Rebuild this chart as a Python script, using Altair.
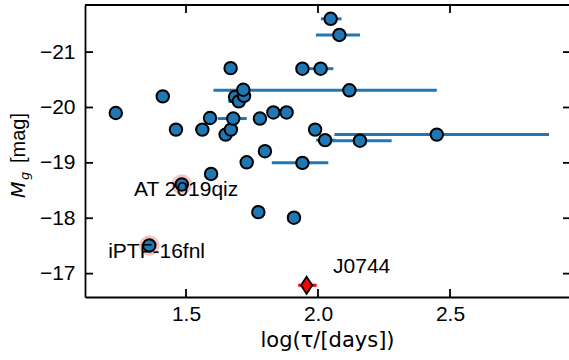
import altair as alt
import pandas as pd

# ---- data ----
log_tau = [1.234, 1.412, 1.462, 1.484, 1.361, 1.562, 1.591, 1.595, 1.650, 1.670,
           1.669, 1.679, 1.686, 1.700, 1.720, 1.717, 1.730, 1.774, 1.780, 1.799,
           1.831, 1.881, 1.909, 1.941, 2.010, 2.048, 2.081, 2.119, 1.941, 1.989,
           2.027, 2.159, 2.450]
mag_g = [-19.90, -20.20, -19.60, -18.61, -17.51, -19.60, -19.81, -18.80, -19.51, -19.60,
         -20.71, -19.80, -20.19, -20.11, -20.21, -20.32, -19.01, -18.11, -19.80, -19.21,
         -19.91, -19.91, -18.01, -20.70, -20.70, -21.60, -21.31, -20.31, -19.00, -19.60,
         -19.41, -19.40, -19.51]

# horizontal error bars (lower end, upper end, magnitude)
err_lo = [1.535, 1.620, 1.660, 1.962, 2.011, 1.992, 1.604, 1.825, 1.993, 2.045, 2.062]
err_hi = [1.585, 1.730, 1.720, 2.058, 2.089, 2.159, 2.450, 2.039, 2.065, 2.279, 2.875]
err_y = [-19.60, -19.80, -20.11, -20.70, -21.60, -21.31, -20.31, -19.00, -19.41, -19.40, -19.51]

# highlighted events
hl_x = [1.484, 1.361]
hl_y = [-18.61, -17.51]
hl_names = ["AT 2019qiz", "iPTF-16fnl"]

# J0744
j_x = [1.957]
j_y = [-16.79]
j_lo = [1.925]
j_hi = [1.995]

# annotation texts
ann_text = ["AT 2019qiz", "iPTF-16fnl", "J0744"]
ann_x = [1.303, 1.205, 2.057]
ann_y = [-18.41, -17.29, -17.01]

x_ticks = [1.5, 2.0, 2.5]
y_ticks = [-21, -20, -19, -18, -17]
x_domain = [1.1174, 2.9508]
y_domain = [-21.85, -16.578]

W, H = 484, 292
FONT = "Liberation Sans"
C0 = "#1f77b4"

pts = pd.DataFrame({"x": log_tau, "y": mag_g})
errs = pd.DataFrame({"lo": err_lo, "hi": err_hi, "y": err_y})
hl = pd.DataFrame({"x": hl_x, "y": hl_y, "name": hl_names})
jd = pd.DataFrame({"x": j_x, "y": j_y, "lo": j_lo, "hi": j_hi})
ann = pd.DataFrame({"t": ann_text, "x": ann_x, "y": ann_y})
xt = pd.DataFrame({"v": x_ticks})
yt = pd.DataFrame({"v": y_ticks})

xs = alt.Scale(domain=x_domain, nice=False, zero=False)
ys = alt.Scale(domain=y_domain, nice=False, zero=False, reverse=True)

X = alt.X("x:Q", scale=xs, axis=alt.Axis(
    values=x_ticks, format=".1f", title="log(τ/[days])",
    titleFont="DejaVu Sans", titleFontSize=21,
    ticks=False, tickSize=0, labelPadding=6, titlePadding=5))
Y = alt.Y("y:Q", scale=ys, axis=alt.Axis(
    values=y_ticks, title=None, ticks=False, tickSize=0, labelPadding=10,
    labelExpr="replace(format(datum.value, 'd'), '-', '\u2212')"))

halos = alt.Chart(hl).mark_point(filled=True, shape="circle", size=420,
                                  color="#f9c6c6", opacity=1).encode(x=X, y=Y)

bars = alt.Chart(errs).mark_rule(color=C0, strokeWidth=3).encode(
    x=alt.X("lo:Q", scale=xs), x2="hi:Q", y=alt.Y("y:Q", scale=ys))

points = alt.Chart(pts).mark_point(filled=True, shape="circle", size=155, fill=C0,
                                   stroke="black", strokeWidth=2, opacity=1).encode(x=X, y=Y)

jbar = alt.Chart(jd).mark_rule(color="red", strokeWidth=3).encode(
    x=alt.X("lo:Q", scale=xs), x2="hi:Q", y=alt.Y("y:Q", scale=ys))

jpt = alt.Chart(jd).mark_point(filled=True, shape="M0,-1L0.66,0L0,1L-0.66,0Z", size=290,
                               fill="red", stroke="black", strokeWidth=1.8,
                               opacity=1).encode(x=alt.X("x:Q", scale=xs), y=alt.Y("y:Q", scale=ys))

texts = alt.Chart(ann).mark_text(align="left", baseline="alphabetic", font=FONT,
                                 fontSize=21, color="black").encode(
    x=alt.X("x:Q", scale=xs), y=alt.Y("y:Q", scale=ys), text="t:N")

# inward ticks on all four sides
tick_style = dict(color="black", strokeWidth=1.8)
bt = alt.Chart(xt).mark_rule(**tick_style).encode(
    x=alt.X("v:Q", scale=xs), y=alt.value(H - 8), y2=alt.value(H))
tt = alt.Chart(xt).mark_rule(**tick_style).encode(
    x=alt.X("v:Q", scale=xs), y=alt.value(0), y2=alt.value(8))
lt = alt.Chart(yt).mark_rule(**tick_style).encode(
    y=alt.Y("v:Q", scale=ys), x=alt.value(0), x2=alt.value(8))
rt = alt.Chart(yt).mark_rule(**tick_style).encode(
    y=alt.Y("v:Q", scale=ys), x=alt.value(W - 6), x2=alt.value(W))
top_spine = alt.Chart(xt).mark_rule(color="black", strokeWidth=1.8).encode(
    x=alt.value(0), x2=alt.value(W), y=alt.value(0))

# y-axis title: M_g [mag]
t_M = alt.Chart(pd.DataFrame({"t": ["M"]})).mark_text(
    font="DejaVu Sans", fontSize=19, fontStyle="italic", angle=270, align="left",
    baseline="alphabetic", color="black").encode(x=alt.value(-60), y=alt.value(193), text="t:N")
t_g = alt.Chart(pd.DataFrame({"t": ["g"]})).mark_text(
    font="DejaVu Sans", fontSize=13, fontStyle="italic", angle=270, align="left",
    baseline="alphabetic", color="black").encode(x=alt.value(-56), y=alt.value(175), text="t:N")
t_mag = alt.Chart(pd.DataFrame({"t": ["[mag]"]})).mark_text(
    font=FONT, fontSize=20, angle=270, align="left",
    baseline="alphabetic", color="black").encode(x=alt.value(-60), y=alt.value(158), text="t:N")

chart = alt.layer(
    halos, bars, points, jbar, jpt, texts, bt, tt, lt, rt, top_spine, t_M, t_g, t_mag
).properties(
    width=W, height=H,
    autosize=alt.AutoSizeParams(type="none"),
    padding={"left": 85, "top": 5, "right": 0, "bottom": 63},
).configure_view(stroke=None).configure_axis(
    grid=False, domainColor="black", domainWidth=1.8,
    labelFont=FONT, labelFontSize=21, labelColor="black",
    titleFont=FONT, titleFontSize=21, titleFontWeight="normal", titleColor="black",
)

chart.save("out.html", embed_options={"renderer": "svg", "actions": False})
